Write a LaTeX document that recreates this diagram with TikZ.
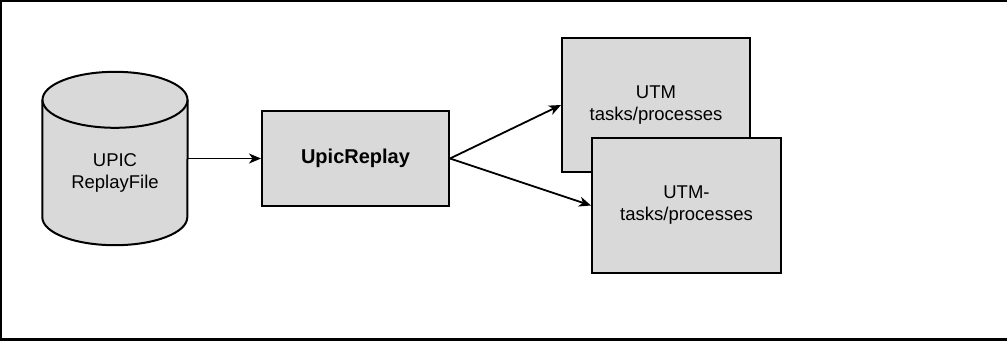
\documentclass[tikz,border=0pt]{standalone}
\usepackage{fontspec}
\setmainfont{Liberation Sans}
\usetikzlibrary{arrows.meta,backgrounds}
\tikzstyle{blk}=[rectangle,draw=black,line width=2pt,fill=gray!30,align=center,font=\fontsize{18.5}{22}\selectfont]
\tikzstyle{dbtext}=[rectangle,align=center,inner sep=0pt,font=\fontsize{18.5}{22}\selectfont]
\tikzstyle{dbline}=[draw=black,line width=2pt,fill=gray!30]
\tikzstyle{arr}=[-{Stealth[length=12pt,width=10pt,inset=3.5pt]},line width=1.8pt]

\begin{document}
\begin{tikzpicture}[x=1pt,y=-1pt]
\useasboundingbox (0,0) rectangle (1007,341);
\draw[line width=2.5pt] (1008,1.2) -- (1.2,1.2) -- (1.2,339.5) -- (1008,339.5);
\node[dbtext,minimum width=145pt,minimum height=117pt] (file) at (115,158.5) {\rule{0pt}{42pt}UPIC\\ReplayFile};
\begin{scope}[on background layer]
\fill[gray!30] (file.north west) rectangle (file.south east);
\path[dbline] (file.north west) -- (file.south west) arc[start angle=180,end angle=360,x radius=72.5pt,y radius=28pt] -- (file.north east);
\path[dbline] (file.north) ellipse[x radius=72.5pt,y radius=28pt];
\end{scope}
\node[blk,minimum width=187pt,minimum height=95pt] (replay) at (355.5,158.5) {\fontsize{20}{22}\selectfont\textbf{UpicReplay}};
\node[blk,minimum width=188pt,minimum height=134pt] (utm) at (656,105) {UTM\\tasks/processes};
\node[blk,minimum width=189pt,minimum height=135pt] (utmb) at (686.5,205.5) {UTM-\\tasks/processes};
\draw[arr] (file.east) -- (replay.west);
\draw[arr] (replay.east) -- (utm.west);
\draw[arr] (replay.east) -- (utmb.west);
\end{tikzpicture}
\end{document}
